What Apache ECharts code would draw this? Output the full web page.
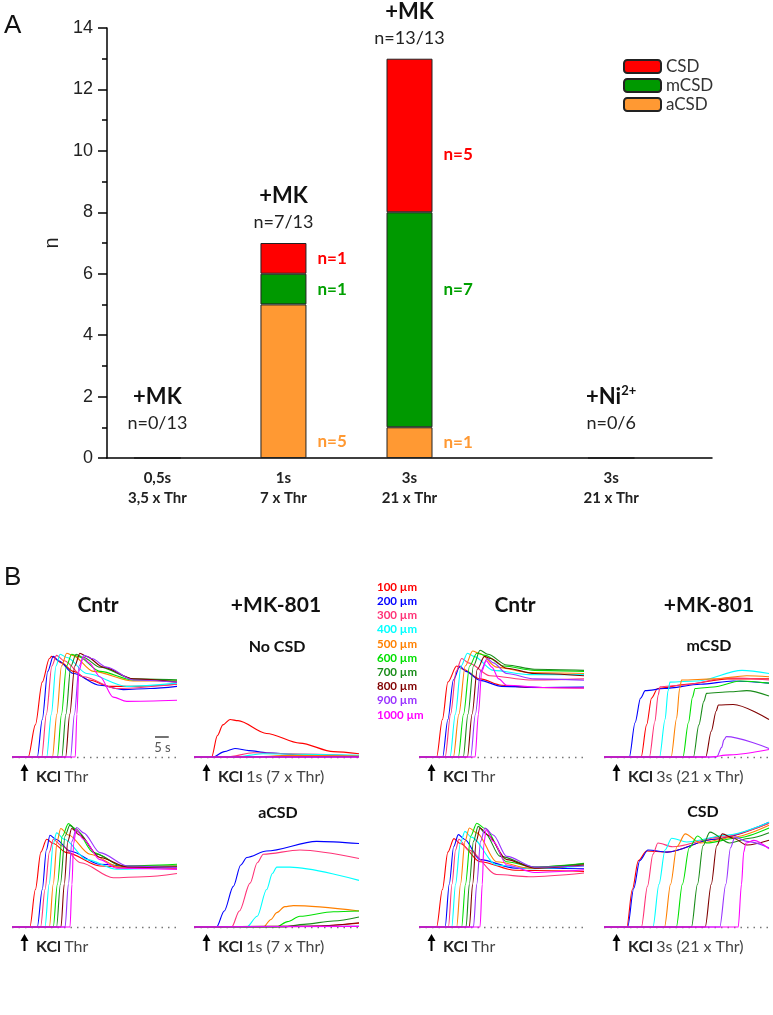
<!DOCTYPE html>
<html>
<head>
<meta charset="utf-8">
<script src="https://cdn.jsdelivr.net/npm/echarts@6.0.0/dist/echarts.min.js"></script>
<style>
  html, body { margin: 0; background: #fff; }
  #chart { width: 773px; height: 1015px; }
</style>
</head>
<body>
<div id="chart"></div>
<script>
  // ---------- panel A : number of slices per response type ----------
  const groupX = [0.5, 1.75, 3, 5]
  const groupTicks = ['0,5s\n3,5 x Thr', '1s\n7 x Thr', '3s\n21 x Thr', '3s\n21 x Thr']
  const drugs = ['+MK', '+MK', '+MK', '+Ni']
  const drugCharge = ['', '', '', '2+']
  const responders = ['n=0/13', 'n=7/13', 'n=13/13', 'n=0/6']
  const aCSD = [0, 5, 1, 0]
  const mCSD = [0, 1, 7, 0]
  const CSD = [0, 1, 5, 0]

  // ---------- panel B : DC traces, [time s, % of max] ----------
  const distances = ['100 µm', '200 µm', '300 µm', '400 µm', '500 µm', '600 µm', '700 µm', '800 µm', '900 µm', '1000 µm']

  const cntrA = [
    [[0,0],[5.9,0],[8.5,30],[11,70],[13.6,92],[14.4,94],[18,88],[22.3,80],[28,72],[35.6,66],[45,66],[60,68]],
    [[0,0],[9.2,0],[11,35],[13,80],[15,94],[17,90],[22.3,78],[32,67],[40.5,63],[50.2,64],[60,66]],
    [[0,0],[10.8,0],[12.5,40],[14.5,85],[16.2,95],[19,90],[25.9,75],[38.1,64],[60,68]],
    [[0,0],[12.6,0],[14.3,40],[16,85],[17.5,96],[20,93],[27.2,78],[41.7,66],[60,69]],
    [[0,0],[14.7,0],[16.3,40],[18,85],[19.9,97],[22,95],[29.6,80],[44.1,71],[60,71]],
    [[0,0],[16.5,0],[18,40],[19.8,85],[21.7,96],[24,94],[32,80],[44.1,72],[60,72]],
    [[0,0],[18.1,0],[19.6,40],[21.4,85],[23.3,96],[26,93],[32,84],[44.1,73],[60,72]],
    [[0,0],[19.5,0],[21,40],[22.8,85],[24.7,97],[27,94],[33.2,84],[44.1,73],[60,70]],
    [[0,0],[21.3,0],[22.7,40],[24.4,85],[26.2,95],[29,92],[34.4,84],[44.1,72],[60,70]],
    [[0,0],[23,0],[23.6,40],[24.3,80],[25.9,93],[28,88],[32,75],[36.8,56],[41.7,52],[60,53]]
  ]
  const mkNoCsd = [
    [[0,0],[6.4,0],[8.5,20],[10.5,30],[13.1,35],[16,34],[26.4,22],[38.5,13],[50.7,5],[60,3]],
    [[0,0],[7,0],[11,5],[14.9,8],[20,6],[26.4,4],[38.5,2],[60,1]],
    [[0,0],[12,0],[21.6,4],[35,3],[60,1]],
    [[0,0],[15,0],[25,3],[40,2.5],[60,1.5]],
    [[0,0],[20,0],[35,1.5],[60,1]],
    [[0,0],[60,0.5]],
    [[0,0],[60,0.5]],
    [[0,0],[60,0]],
    [[0,0],[60,0]],
    [[0,0],[60,0]]
  ]
  const cntrB = [
    [[0,0],[6.4,0],[8.5,35],[10.5,70],[13.7,85],[16,82],[22.2,73],[30,67],[40,65],[60,64.5]],
    [[0,0],[8.6,0],[10.5,35],[12.5,72],[14.9,85],[17,80],[22.2,71.6],[30,66],[45,65],[60,65.4]],
    [[0,0],[9.5,0],[11.5,40],[13.5,80],[15.5,92],[18,88],[25.8,76],[40,72],[60,73]],
    [[0,0],[11.3,0],[13.2,40],[15.3,85],[17.6,97],[20,94],[27,81],[40,77],[60,77]],
    [[0,0],[12.5,0],[14.5,40],[16.8,85],[19.5,99],[22,97],[28.2,84],[40,79],[60,78]],
    [[0,0],[14.3,0],[16.2,40],[18.4,85],[21,97],[24,95],[30.7,85],[42,81],[60,80]],
    [[0,0],[16.1,0],[17.8,40],[19.8,85],[22.2,99.7],[25,96],[31.9,86],[42,82],[60,81]],
    [[0,0],[17.6,0],[19.3,40],[21.2,82],[23.8,94],[26,92],[31.9,83],[42,78],[60,76]],
    [[0,0],[18.8,0],[20.5,40],[22.4,80],[24.8,92],[27,88],[31.9,78],[42,73],[60,71.7]],
    [[0,0],[20.4,0],[21.6,40],[22.8,80],[24.4,90],[26.5,84],[29,73],[31.9,67],[45,65],[60,64.5]]
  ]
  const mkMcsd = [
    [[0,0],[13.5,0],[15.5,30],[17.3,55],[19.5,64],[30,68],[45,73],[60,73]],
    [[0,0],[9.2,0],[11.3,32],[13.3,55],[15,62],[22,64],[35,68],[47,71],[60,69]],
    [[0,0],[16.5,0],[18.5,33],[19.7,58],[20.4,65.7],[27.6,67],[45.8,74],[60,72]],
    [[0,0],[20.2,0],[22.2,35],[23.3,62],[24,70],[33.7,71],[50.2,81],[60,78]],
    [[0,0],[24.4,0],[26.4,36],[27.5,64],[28.2,72],[39.8,73],[51.9,76],[60,75]],
    [[0,0],[28.7,0],[30.7,32],[32.2,56],[33.1,64],[39.8,65.4],[49.5,71],[60,69]],
    [[0,0],[32.5,0],[34.5,30],[36.3,52],[37.3,59.5],[45.8,61],[51.9,62],[60,57]],
    [[0,0],[37,0],[39,24],[40.8,43],[41.6,48.6],[47,49],[60,35]],
    [[0,0],[41,0],[42.8,9],[43.6,16],[44.5,19],[60,8]],
    [[0,0],[38,0],[45.8,2],[60,7]]
  ]
  const cntrC = [
    [[0,0],[6.5,0],[8.5,35],[10.5,70],[12.6,82],[15,78],[19.9,69.5],[32,57],[45,55],[60,55]],
    [[0,0],[9.2,0],[11,35],[12.5,72],[13.8,85.7],[16,82],[21.1,71],[32,58.6],[45,56],[60,56]],
    [[0,0],[10.4,0],[12,35],[13.6,70],[15,82],[18,76],[25,60],[36.8,46],[48,47],[60,50]],
    [[0,0],[12,0],[13.5,40],[15,78],[16.2,88],[19,82],[27.2,63],[38.1,54],[60,56]],
    [[0,0],[13.6,0],[15,40],[16.4,80],[17.7,92],[20.5,86],[28.4,68],[39.3,56],[60,57]],
    [[0,0],[15,0],[16.5,40],[18.3,85],[20.5,96.6],[23,92],[29.6,69.5],[40,57],[60,58.6]],
    [[0,0],[16.2,0],[17.6,40],[19.3,85],[21,95],[24,89],[30.8,68],[40,57],[60,57]],
    [[0,0],[17.8,0],[19,40],[20.3,80],[21.7,92],[24.5,86],[32,65],[42,56],[60,56]],
    [[0,0],[19.3,0],[20.5,40],[21.8,80],[23.5,93],[26,88],[32,69.5],[42,57],[60,55.5]],
    [[0,0],[21.1,0],[21.8,40],[22.4,78],[23.3,91],[26,82],[32,63],[38,55],[60,53.9]]
  ]
  const mkAcsd = [
    [[0,0],[40,0.5],[60,3.5]],
    [[0,0],[8.2,0],[11,15],[14.3,38],[17,58],[19.2,65],[26.4,71],[44.6,80],[60,78]],
    [[0,0],[13.7,0],[16.5,15],[20.4,41],[23,60],[25.2,68],[38.5,72],[60,64]],
    [[0,0],[19.2,0],[23,10],[26.4,35],[28.5,50],[30.1,56],[34.9,56],[60,43.6]],
    [[0,0],[25.2,0],[28,7],[30.1,13.4],[33,19],[36.1,20],[60,15]],
    [[0,0],[30,0],[34,5],[38.5,10],[50.7,14.3],[60,15]],
    [[0,0],[32.5,0],[40,2.5],[50.7,5.6],[60,9.3]],
    [[0,0],[44.6,1],[60,4]],
    [[0,0],[60,1]],
    [[0,0],[60,0.5]]
  ]
  const cntrD = [
    [[0,0],[6.4,0],[8.5,35],[10.5,70],[12.7,82.6],[15,78],[22.2,61],[35,53],[60,52]],
    [[0,0],[9.5,0],[11,40],[12.6,75],[14.3,86.3],[16.5,82],[22.2,63],[35,55],[60,54.5]],
    [[0,0],[10.7,0],[12,40],[13.3,72],[14.5,82],[18,72],[28.2,49],[40,47],[60,50.5]],
    [[0,0],[11.9,0],[13.3,40],[15,78],[16.7,89.4],[19,84],[28.2,58],[40.4,54.5],[60,57]],
    [[0,0],[13.7,0],[15.1,40],[16.7,80],[18.3,92.5],[21,88],[28.2,61],[40.4,55],[60,58]],
    [[0,0],[15.5,0],[16.9,40],[18.8,85],[21,97],[24,92],[31.9,61],[42,56],[60,59.5]],
    [[0,0],[17.1,0],[18.3,40],[19.8,80],[21.5,94],[24,88],[29.5,66],[42,56],[60,59]],
    [[0,0],[18.3,0],[19.5,40],[20.8,80],[22.2,92.5],[25,86],[31.9,63],[42,55],[60,58]],
    [[0,0],[19.8,0],[21,40],[22.4,80],[24,92.5],[27,86],[31.9,66],[42,56],[60,57]],
    [[0,0],[22.2,0],[23,40],[23.6,78],[24.4,91],[27,80],[31.9,58],[42,51],[60,53.5]]
  ]
  const mkCsd = [
    [[0,0],[8.3,0],[10.3,35],[12.5,62],[15.5,71],[22.9,70],[40,82],[60,97]],
    [[0,0],[8.6,0],[10.8,36],[13,62],[16,72],[22.9,70],[40,82],[60,98]],
    [[0,0],[13.6,0],[15.8,38],[17.8,68],[19.6,78.5],[25,75],[42,84],[60,97]],
    [[0,0],[17.8,0],[20,40],[22.2,72],[24.6,83],[30,79.5],[45,86],[60,98]],
    [[0,0],[22,0],[24.2,40],[26.5,75],[29.5,87],[35,78.5],[47,84],[60,95]],
    [[0,0],[26.3,0],[28.5,40],[31,74],[34,85],[37.4,78.5],[48,83],[60,92.5]],
    [[0,0],[31.8,0],[34,40],[36,76],[38.5,88.7],[45.7,78.5],[53,83],[60,88]],
    [[0,0],[36.8,0],[39,40],[41,76],[43,87],[47,83],[52,76.6],[60,81]],
    [[0,0],[42.1,0],[44.3,40],[46,74],[47.6,84],[52,80],[60,74]],
    [[0,0],[48.8,0],[50,40],[50.8,70],[51.6,78.5],[54.5,81],[60,73]]
  ]

  // ---------- styles / layout ----------
  const FONT = 'Lato'
  const traceColors = ['#ff0000', '#0000ff', '#ff3377', '#00ffff', '#ff8000', '#00e000', '#1a8c1a', '#800000', '#9933ff', '#ff00ff']
  const barColors = { CSD: '#ff0000', mCSD: '#009900', aCSD: '#ff9933' }
  const countColors = { CSD: '#ff0000', mCSD: '#00a000', aCSD: '#ff9933' }
  // the original moves some count labels away from the segment centre
  const countShift = { aCSD: [0, 60, 0, 0], mCSD: [0, 0, -30, 0], CSD: [0, 0, 19, 0] }

  const panelW = 165
  const panelH = 107
  const bPanels = [
    { traces: cntrA, left: 12, top: 650, stim: 'Thr' },
    { traces: mkNoCsd, left: 194, top: 650, stim: '1s (7 x Thr)' },
    { traces: cntrB, left: 419, top: 650, stim: 'Thr' },
    { traces: mkMcsd, left: 604, top: 650, stim: '3s (21 x Thr)' },
    { traces: cntrC, left: 12, top: 820, stim: 'Thr' },
    { traces: mkAcsd, left: 194, top: 820, stim: '1s (7 x Thr)' },
    { traces: cntrD, left: 419, top: 820, stim: 'Thr' },
    { traces: mkCsd, left: 604, top: 820, stim: '3s (21 x Thr)' }
  ]

  // value goes first so that the stack runs along y (x is a numeric axis too)
  function barSeries(name, vals) {
    return {
      name,
      type: 'bar',
      stack: 'n',
      xAxisIndex: 0,
      yAxisIndex: 0,
      barWidth: 46,
      encode: { x: 1, y: 0 },
      itemStyle: { color: barColors[name], borderColor: '#222', borderWidth: 1 },
      label: {
        show: true,
        position: 'right',
        distance: 11,
        fontFamily: FONT,
        fontWeight: 'bold',
        fontSize: 17,
        color: countColors[name],
        formatter: (p) => (p.value[0] > 0 ? 'n=' + p.value[0] : ''),
      },
      data: vals.map((v, i) => ({ value: [v, groupX[i]], label: { offset: [0, countShift[name][i]] } })),
    }
  }

  const totals = groupX.map((x, i) => aCSD[i] + mCSD[i] + CSD[i])

  const grids = [{ left: 107, top: 28, width: 605, height: 430 }]
  const xAxes = [
    {
      type: 'value',
      gridIndex: 0,
      min: 0,
      max: 6,
      splitLine: { show: false },
      axisTick: { show: false },
      axisLine: { lineStyle: { color: '#000', width: 1.5 } },
      axisLabel: {
        customValues: groupX,
        margin: 10,
        fontFamily: FONT,
        fontWeight: 'bold',
        fontSize: 15,
        lineHeight: 20,
        color: '#222',
        formatter: (v) => groupTicks[groupX.indexOf(v)] || '',
      },
    },
  ]
  const yAxes = [
    {
      type: 'value',
      gridIndex: 0,
      min: 0,
      max: 14,
      interval: 2,
      name: 'n',
      nameLocation: 'middle',
      nameGap: 45,
      nameMoveOverlap: false,
      nameRotate: 90,
      nameTextStyle: { fontFamily: 'Liberation Sans', fontSize: 20, color: '#222' },
      splitLine: { show: false },
      axisLine: { show: true, lineStyle: { color: '#000', width: 1.5 } },
      axisTick: { show: true, length: 9, lineStyle: { color: '#000', width: 1.5 } },
      minorTick: { show: true, splitNumber: 2, length: 5, lineStyle: { color: '#000', width: 1.5 } },
      axisLabel: { margin: 14, fontFamily: 'Liberation Sans', fontSize: 18, color: '#222' },
    },
  ]

  const series = [
    barSeries('aCSD', aCSD),
    barSeries('mCSD', mCSD),
    barSeries('CSD', CSD),
    {
      type: 'scatter',
      xAxisIndex: 0,
      yAxisIndex: 0,
      symbolSize: 0,
      itemStyle: { color: '#000', opacity: 1 },
      data: totals.map((t, i) => ({ value: [groupX[i], t], label: { distance: t === 0 ? 23 : 9 } })),
      label: {
        show: true,
        position: 'top',
        color: '#111',
        fontFamily: FONT,
        formatter: (p) => {
          const i = p.dataIndex
          let s = '{d|' + drugs[i] + '}'
          if (drugCharge[i]) s += '{s|' + drugCharge[i] + '}'
          return s + '\n{n|' + responders[i] + '}'
        },
        rich: {
          d: { fontFamily: FONT, fontWeight: 'bold', fontSize: 22, lineHeight: 28, color: '#111' },
          s: { fontFamily: FONT, fontWeight: 'bold', fontSize: 13, lineHeight: 13, padding: [0, 0, 12, 0], color: '#111' },
          n: { fontFamily: FONT, fontSize: 18, lineHeight: 24, color: '#222' },
        },
      },
    },
  ]

  const graphic = [
    { type: 'text', left: 4, top: 13, style: { text: 'A', font: '26px "Liberation Sans"', fill: '#111' } },
    { type: 'text', left: 4, top: 565, style: { text: 'B', font: '26px "Liberation Sans"', fill: '#111' } },
  ]
  const centred = (text, x, y, size) => ({
    type: 'text',
    x,
    y,
    style: { text, x: 0, y: 0, align: 'center', verticalAlign: 'middle', font: 'bold ' + size + 'px ' + FONT, fill: '#111' },
  })
  graphic.push(
    centred('Cntr', 98, 605, 21),
    centred('+MK-801', 276, 605, 21),
    centred('Cntr', 515, 605, 21),
    centred('+MK-801', 709, 605, 21),
    centred('No CSD', 277, 647, 16),
    centred('mCSD', 709, 646, 16),
    centred('aCSD', 278, 813, 16),
    centred('CSD', 703, 812, 16)
  )

  bPanels.forEach((p, i) => {
    const gi = i + 1
    grids.push({ left: p.left, top: p.top, width: panelW, height: panelH })
    xAxes.push({ type: 'value', gridIndex: gi, min: 0, max: 60, show: false })
    yAxes.push({ type: 'value', gridIndex: gi, min: 0, max: 100, show: false })
    p.traces.forEach((pts, k) => {
      const s = {
        name: distances[k],
        type: 'line',
        xAxisIndex: gi,
        yAxisIndex: gi,
        data: pts,
        symbol: 'none',
        smooth: 0.3,
        smoothMonotone: 'x',
        clip: false,
        itemStyle: { color: traceColors[k] },
        lineStyle: { color: traceColors[k], width: 1.1 },
        z: 3,
      }
      if (k === 0) {
        s.markLine = {
          silent: true,
          symbol: 'none',
          label: { show: false },
          lineStyle: { color: '#777', width: 1.3, type: [1.5, 5] },
          data: [{ yAxis: 0 }],
          z: 1,
        }
      }
      series.push(s)
    })
    // stimulus arrow + label
    const base = p.top + panelH
    const ax = p.left + 12.5
    graphic.push(
      { type: 'line', shape: { x1: ax, y1: base + 12, x2: ax, y2: base + 24 }, style: { stroke: '#000', lineWidth: 2 } },
      { type: 'polygon', shape: { points: [[ax - 4, base + 14], [ax, base + 7], [ax + 4, base + 14]] }, style: { fill: '#000' } },
      {
        type: 'text',
        x: p.left + 24,
        y: base + 20,
        style: {
          text: '{k|KCl} {t|' + p.stim + '}',
          x: 0,
          y: 0,
          verticalAlign: 'middle',
          rich: {
            k: { fontFamily: FONT, fontWeight: 'bold', fontSize: 16, fill: '#222' },
            t: { fontFamily: FONT, fontSize: 16, fill: '#444' },
          },
        },
      }
    )
  })

  // 5 s scale bar in first trace panel
  const sbLen = (panelW / 60) * 5
  graphic.push(
    { type: 'line', shape: { x1: 155, y1: 737, x2: 155 + sbLen, y2: 737 }, style: { stroke: '#444', lineWidth: 1.5 } },
    { type: 'text', x: 162.5, y: 748, style: { text: '5 s', x: 0, y: 0, align: 'center', verticalAlign: 'middle', font: '13px ' + FONT, fill: '#555' } }
  )

  const chart = echarts.init(document.getElementById('chart'))
  chart.setOption({
    animation: false,
    backgroundColor: '#fff',
    grid: grids,
    xAxis: xAxes,
    yAxis: yAxes,
    legend: [
      {
        data: ['CSD', 'mCSD', 'aCSD'],
        orient: 'vertical',
        left: 618,
        top: 53,
        itemWidth: 37,
        itemHeight: 13,
        itemGap: 2,
        selectedMode: false,
        textStyle: { fontFamily: FONT, fontSize: 17, color: '#333' },
      },
      {
        data: distances.map((d, k) => ({ name: d, textStyle: { color: traceColors[k] } })),
        orient: 'vertical',
        left: 367,
        top: 575,
        icon: 'none',
        itemWidth: 0,
        itemHeight: 14,
        itemGap: 0.2,
        selectedMode: false,
        textStyle: { fontFamily: FONT, fontWeight: 'bold', fontSize: 11.5, lineHeight: 14 },
      },
    ],
    series,
    graphic,
  })
</script>
</body>
</html>
